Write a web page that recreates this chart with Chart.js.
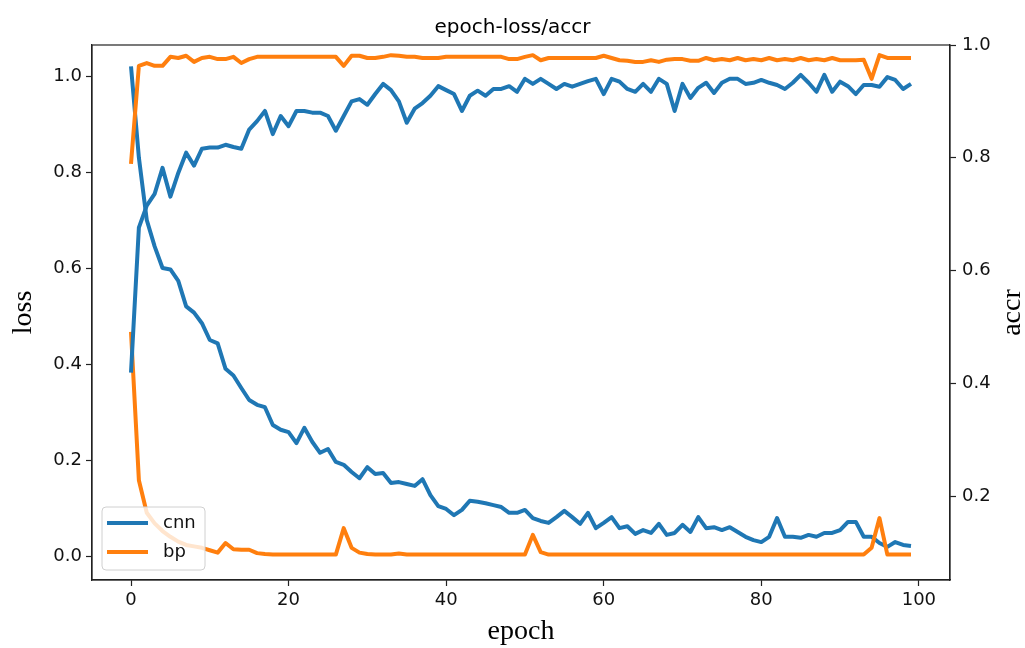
<!DOCTYPE html>
<html>
<head>
<meta charset="utf-8">
<script src="https://cdn.jsdelivr.net/npm/chart.js@4.4.0/dist/chart.umd.min.js"></script>
<style>
  html, body { margin: 0; padding: 0; background: #fff; }
  #chart { display: block; }
</style>
</head>
<body>
<canvas id="chart" width="1025" height="648"></canvas>
<script>
// epochs 0..99
const epochs = [0,1,2,3,4,5,6,7,8,9,10,11,12,13,14,15,16,17,18,19,20,21,22,23,24,25,26,27,28,29,
  30,31,32,33,34,35,36,37,38,39,40,41,42,43,44,45,46,47,48,49,50,51,52,53,54,55,56,57,58,59,
  60,61,62,63,64,65,66,67,68,69,70,71,72,73,74,75,76,77,78,79,80,81,82,83,84,85,86,87,88,89,
  90,91,92,93,94,95,96,97,98,99];

// loss (left axis)
const cnnLoss = [1.02,0.83,0.70,0.645,0.60,0.597,0.573,0.52,0.507,0.485,
  0.45,0.443,0.39,0.376,0.35,0.325,0.315,0.31,0.273,0.263,
  0.258,0.235,0.267,0.238,0.215,0.223,0.196,0.19,0.175,0.162,
  0.185,0.171,0.173,0.152,0.154,0.15,0.146,0.16,0.127,0.104,
  0.098,0.085,0.096,0.115,0.113,0.11,0.106,0.102,0.09,0.09,
  0.096,0.079,0.073,0.069,0.081,0.094,0.081,0.067,0.09,0.058,
  0.069,0.081,0.058,0.062,0.046,0.054,0.048,0.067,0.044,0.048,
  0.065,0.05,0.081,0.058,0.06,0.054,0.06,0.05,0.04,0.033,
  0.029,0.04,0.079,0.04,0.04,0.038,0.044,0.04,0.048,0.048,
  0.054,0.071,0.071,0.04,0.04,0.027,0.019,0.029,0.023,0.021];
const bpLoss = [0.467,0.158,0.09,0.068,0.052,0.04,0.03,0.023,0.02,0.017,
  0.012,0.007,0.027,0.014,0.013,0.013,0.006,0.004,0.003,0.003,
  0.003,0.003,0.003,0.003,0.003,0.003,0.003,0.058,0.017,0.007,
  0.004,0.003,0.003,0.003,0.005,0.003,0.003,0.003,0.003,0.003,
  0.003,0.003,0.003,0.003,0.003,0.003,0.003,0.003,0.003,0.003,
  0.003,0.044,0.008,0.003,0.003,0.003,0.003,0.003,0.003,0.003,
  0.003,0.003,0.003,0.003,0.003,0.003,0.003,0.003,0.003,0.003,
  0.003,0.003,0.003,0.003,0.003,0.003,0.003,0.003,0.003,0.003,
  0.003,0.003,0.003,0.003,0.003,0.003,0.003,0.003,0.003,0.003,
  0.003,0.003,0.003,0.003,0.017,0.079,0.003,0.003,0.003,0.003];

// accuracy (right axis)
const cnnAccr = [0.419,0.676,0.715,0.736,0.782,0.731,0.773,0.809,0.786,0.816,
  0.818,0.818,0.823,0.819,0.816,0.85,0.865,0.883,0.842,0.874,
  0.856,0.883,0.883,0.88,0.88,0.874,0.848,0.874,0.9,0.904,
  0.894,0.913,0.931,0.92,0.90,0.862,0.887,0.897,0.91,0.927,
  0.92,0.913,0.883,0.91,0.919,0.91,0.922,0.922,0.927,0.917,
  0.94,0.931,0.94,0.931,0.922,0.931,0.926,0.931,0.936,0.94,
  0.913,0.94,0.935,0.922,0.917,0.931,0.917,0.94,0.931,0.883,
  0.931,0.906,0.924,0.933,0.915,0.933,0.94,0.94,0.931,0.933,
  0.938,0.933,0.929,0.922,0.933,0.947,0.933,0.917,0.947,0.917,
  0.935,0.927,0.913,0.929,0.929,0.926,0.943,0.938,0.922,0.931];
const bpAccr = [0.789,0.963,0.968,0.963,0.963,0.979,0.977,0.981,0.970,0.977,
  0.979,0.975,0.975,0.979,0.968,0.975,0.979,0.979,0.979,0.979,
  0.979,0.979,0.979,0.979,0.979,0.979,0.979,0.963,0.981,0.981,
  0.977,0.977,0.979,0.982,0.981,0.979,0.979,0.977,0.977,0.977,
  0.979,0.979,0.979,0.979,0.979,0.979,0.979,0.979,0.975,0.975,
  0.979,0.982,0.973,0.977,0.977,0.977,0.977,0.977,0.977,0.977,
  0.981,0.977,0.973,0.972,0.970,0.970,0.973,0.970,0.974,0.975,
  0.975,0.972,0.972,0.977,0.973,0.975,0.973,0.977,0.973,0.975,
  0.973,0.977,0.973,0.975,0.973,0.977,0.973,0.975,0.973,0.977,
  0.973,0.973,0.973,0.974,0.940,0.982,0.977,0.977,0.977,0.977];

const xTicks = [0, 20, 40, 60, 80, 100];
const lossTicks = [0.0, 0.2, 0.4, 0.6, 0.8, 1.0];
const accrTicks = [0.2, 0.4, 0.6, 0.8, 1.0];

const BLUE = '#1f77b4';
const ORANGE = '#ff7f0e';
const AXIS = '#222';
const tickFont = { family: 'DejaVu Sans', size: 18 };
const labelFont = { family: 'Liberation Serif', size: 28 };

function line(label, data, color, axis, order) {
  return {
    label: label, data: data, yAxisID: axis, order: order,
    borderColor: color, backgroundColor: color, borderWidth: 4,
    pointRadius: 0, tension: 0, borderJoinStyle: 'round', fill: false
  };
}

// frame, legend inside the axes, and right axis label (reads bottom to top)
const extras = {
  id: 'extras',
  afterDatasetsDraw(chart) {
    const ctx = chart.ctx, a = chart.chartArea;
    const ds = chart.data.datasets;
    const bx = a.left + 10, by = a.bottom - 73, bw = 103, bh = 63;
    ctx.save();
    ctx.fillStyle = 'rgba(255,255,255,0.8)';
    ctx.strokeStyle = '#d0d0d0';
    ctx.lineWidth = 1;
    ctx.beginPath();
    ctx.roundRect(bx, by, bw, bh, 4);
    ctx.fill();
    ctx.stroke();
    ctx.font = '18px "DejaVu Sans"';
    ctx.textBaseline = 'middle';
    ctx.textAlign = 'left';
    for (let i = 0; i < 2; i++) {
      const yy = by + 16 + i * 29;
      ctx.strokeStyle = ds[i].borderColor;
      ctx.lineWidth = 4;
      ctx.beginPath();
      ctx.moveTo(bx + 5, yy);
      ctx.lineTo(bx + 46, yy);
      ctx.stroke();
      ctx.fillStyle = '#111';
      ctx.fillText(ds[i].label, bx + 61, yy);
    }
    ctx.restore();
  },
  afterDraw(chart) {
    const ctx = chart.ctx, a = chart.chartArea;
    ctx.save();
    ctx.strokeStyle = AXIS;
    ctx.lineWidth = 1.2;
    ctx.strokeRect(a.left, a.top, a.right - a.left, a.bottom - a.top);
    ctx.translate(1013, (a.top + a.bottom) / 2);
    ctx.rotate(-Math.PI / 2);
    ctx.font = '28px "Liberation Serif"';
    ctx.fillStyle = '#000';
    ctx.textAlign = 'center';
    ctx.textBaseline = 'middle';
    ctx.fillText('accr', 0, 0);
    ctx.restore();
  }
};

const ctx = document.getElementById('chart').getContext('2d');
new Chart(ctx, {
  type: 'line',
  data: {
    labels: epochs,
    datasets: [
      line('cnn', cnnLoss, BLUE, 'yLoss', 4),
      line('bp', bpLoss, ORANGE, 'yLoss', 3),
      line('cnn', cnnAccr, BLUE, 'yAccr', 2),
      line('bp', bpAccr, ORANGE, 'yAccr', 1)
    ]
  },
  options: {
    responsive: false,
    animation: false,
    devicePixelRatio: 1,
    layout: { padding: 0 },
    plugins: {
      legend: { display: false },
      tooltip: { enabled: false },
      title: {
        display: true,
        text: 'epoch-loss/accr',
        color: '#000',
        font: { family: 'DejaVu Sans', size: 20, weight: 'normal' },
        padding: { top: 16, bottom: 5 }
      }
    },
    scales: {
      x: {
        type: 'linear',
        min: -4.95,
        max: 103.95,
        afterBuildTicks: (s) => { s.ticks = xTicks.map(v => ({ value: v })); },
        afterFit: (s) => { s.height = 68; },
        ticks: { font: tickFont, color: '#111', padding: 4, maxRotation: 0,
                 callback: (v) => String(v) },
        grid: { drawOnChartArea: false, tickLength: 6, tickColor: AXIS, tickWidth: 1.2 },
        border: { display: true, color: AXIS, width: 1.2 },
        title: { display: true, text: 'epoch', color: '#000', font: labelFont,
                 padding: { top: 0, bottom: 0 } }
      },
      yLoss: {
        type: 'linear',
        position: 'left',
        min: -0.05,
        max: 1.0646,
        afterBuildTicks: (s) => { s.ticks = lossTicks.map(v => ({ value: v })); },
        afterFit: (s) => { s.width = 92; },
        ticks: { font: tickFont, color: '#111', padding: 4,
                 callback: (v) => v.toFixed(1) },
        grid: { drawOnChartArea: false, tickLength: 6, tickColor: AXIS, tickWidth: 1.2 },
        border: { display: true, color: AXIS, width: 1.2 },
        title: { display: true, text: 'loss', color: '#000', font: labelFont,
                 padding: { top: 7, bottom: 0 } }
      },
      yAccr: {
        type: 'linear',
        position: 'right',
        min: 0.051,
        max: 1.0,
        afterBuildTicks: (s) => { s.ticks = accrTicks.map(v => ({ value: v })); },
        afterFit: (s) => { s.width = 75; },
        ticks: { font: tickFont, color: '#111', padding: 6,
                 callback: (v) => v.toFixed(1) },
        grid: { drawOnChartArea: false, tickLength: 6, tickColor: AXIS, tickWidth: 1.2 },
        border: { display: true, color: AXIS, width: 1.2 }
      }
    }
  },
  plugins: [extras]
});
</script>
</body>
</html>
